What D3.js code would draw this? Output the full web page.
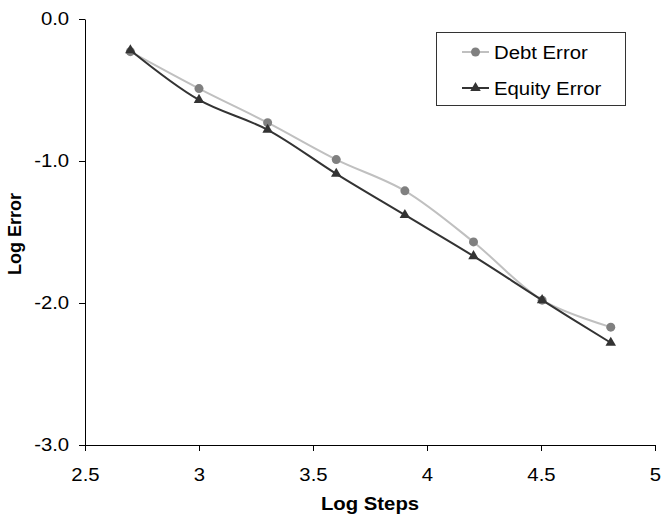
<!DOCTYPE html>
<html>
<head>
<meta charset="utf-8">
<script src="https://cdn.jsdelivr.net/npm/d3@7"></script>
<style>
  body { margin: 0; background: #fff; }
  text { font-family: "Liberation Sans", Arial, sans-serif; }
</style>
</head>
<body>
<svg id="chart" width="665" height="518"></svg>
<script>
// log10 of number of steps
var logSteps = [2.699, 3.000, 3.301, 3.602, 3.903, 4.204, 4.505, 4.806];
var debtError = [-0.23, -0.49, -0.73, -0.99, -1.21, -1.57, -1.98, -2.17];
var equityError = [-0.22, -0.57, -0.78, -1.09, -1.38, -1.67, -1.98, -2.28];
var xTicks = [2.5, 3, 3.5, 4, 4.5, 5];
var yTicks = [0, -1, -2, -3];
var seriesNames = ["Debt Error", "Equity Error"];

var svg = d3.select("#chart");
var stretch = 1.13; // original picture is a bit wider than tall

var x = d3.scaleLinear().domain([2.5, 5]).range([85, 655]);
var y = d3.scaleLinear().domain([-3, 0]).range([445, 19]);

// axes
var xAxis = svg.append("g")
    .attr("transform", "translate(0,445)")
    .call(d3.axisBottom(x).tickValues(xTicks).tickSize(6).tickSizeOuter(0).tickPadding(17)
        .tickFormat(function (d) { return String(d); }));

var yAxis = svg.append("g")
    .attr("transform", "translate(85,0)")
    .call(d3.axisLeft(y).tickValues(yTicks).tickSize(6).tickSizeOuter(0).tickPadding(8)
        .tickFormat(function (d) { return d.toFixed(1); }));

svg.selectAll(".tick text")
    .attr("font-size", 18)
    .attr("font-family", "Liberation Sans, Arial, sans-serif")
    .attr("fill", "#000")
    .attr("transform", "scale(" + stretch + ",1)");
svg.selectAll(".domain, .tick line").attr("stroke", "#000");

// axis titles
svg.append("text")
    .attr("transform", "translate(370,510) scale(" + stretch + ",1)")
    .attr("text-anchor", "middle")
    .attr("font-size", 18)
    .attr("font-weight", "bold")
    .text("Log Steps");

svg.append("text")
    .attr("transform", "translate(21,234) rotate(-90)")
    .attr("text-anchor", "middle")
    .attr("font-size", 18)
    .attr("font-weight", "bold")
    .text("Log Error");

// lines
var line = d3.line()
    .x(function (d) { return x(d[0]); })
    .y(function (d) { return y(d[1]); })
    .curve(d3.curveCatmullRom.alpha(0.5));

var debtPts = logSteps.map(function (s, i) { return [s, debtError[i]]; });
var equityPts = logSteps.map(function (s, i) { return [s, equityError[i]]; });

svg.append("path")
    .datum(debtPts)
    .attr("d", line)
    .attr("fill", "none")
    .attr("stroke", "#c0c0c0")
    .attr("stroke-width", 2);

svg.append("g")
    .selectAll("circle")
    .data(debtPts)
    .enter()
    .append("circle")
    .attr("cx", function (d) { return x(d[0]); })
    .attr("cy", function (d) { return y(d[1]); })
    .attr("r", 4.5)
    .attr("fill", "#808080");

svg.append("path")
    .datum(equityPts)
    .attr("d", line)
    .attr("fill", "none")
    .attr("stroke", "#333333")
    .attr("stroke-width", 2);

var tri = d3.symbol().type(d3.symbolTriangle).size(48);

svg.append("g")
    .selectAll("path")
    .data(equityPts)
    .enter()
    .append("path")
    .attr("d", tri)
    .attr("transform", function (d) { return "translate(" + x(d[0]) + "," + y(d[1]) + ")"; })
    .attr("fill", "#333333");

// legend
var legend = svg.append("g");
legend.append("rect")
    .attr("x", 436.5).attr("y", 32.5)
    .attr("width", 189).attr("height", 73)
    .attr("fill", "#fff")
    .attr("stroke", "#333")
    .attr("stroke-width", 1);

var rows = [52, 88];
var lineColors = ["#c0c0c0", "#333333"];

seriesNames.forEach(function (name, i) {
    var ly = rows[i];
    legend.append("line")
        .attr("x1", 462).attr("x2", 489)
        .attr("y1", ly).attr("y2", ly)
        .attr("stroke", lineColors[i])
        .attr("stroke-width", 2);
    if (i == 0) {
        legend.append("circle")
            .attr("cx", 475.5).attr("cy", ly).attr("r", 4.5)
            .attr("fill", "#808080");
    } else {
        legend.append("path")
            .attr("d", tri)
            .attr("transform", "translate(475.5," + ly + ")")
            .attr("fill", "#333333");
    }
    legend.append("text")
        .attr("transform", "translate(494," + (ly + 6.5) + ") scale(" + stretch + ",1)")
        .attr("font-size", 18)
        .text(name);
});
</script>
</body>
</html>
